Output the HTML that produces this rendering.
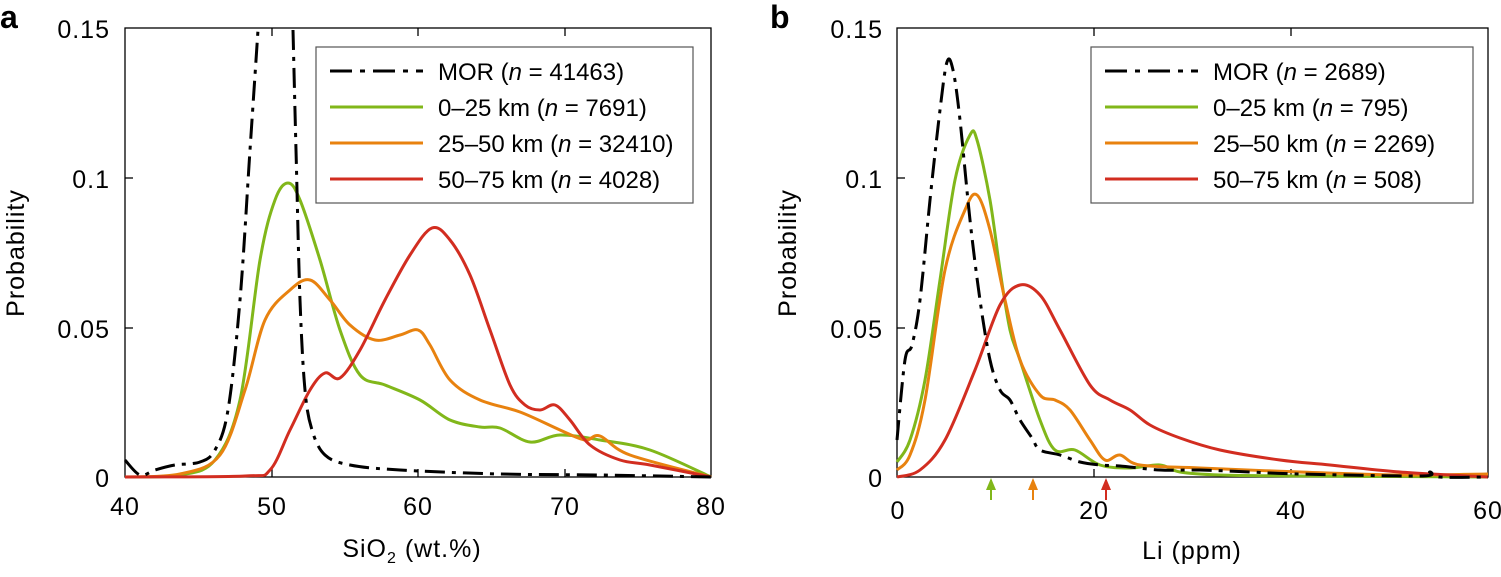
<!DOCTYPE html>
<html><head><meta charset="utf-8"><style>
body{margin:0;background:#fff}
text{font-family:"Liberation Sans",sans-serif;fill:#000}
</style></head><body>
<svg width="1501" height="572" viewBox="0 0 1501 572" xmlns="http://www.w3.org/2000/svg">
<g font-size="25">
<!-- Panel a -->
<text x="0" y="28" font-size="32" font-weight="bold">a</text>
<rect x="125" y="28" width="586" height="449" fill="none" stroke="#000" stroke-width="1.3"/>
<g stroke="#000" stroke-width="1.3">
<line x1="125" y1="178" x2="133" y2="178"/><line x1="125" y1="328" x2="133" y2="328"/>
<line x1="272" y1="477" x2="272" y2="469"/><line x1="418" y1="477" x2="418" y2="469"/><line x1="565" y1="477" x2="565" y2="469"/>
<line x1="272" y1="28" x2="272" y2="36"/><line x1="418" y1="28" x2="418" y2="36"/><line x1="565" y1="28" x2="565" y2="36"/>
</g>
<g text-anchor="end" letter-spacing="1"><text x="110" y="38">0.15</text><text x="110" y="188">0.1</text><text x="110" y="338">0.05</text><text x="110" y="487">0</text></g>
<g text-anchor="middle" letter-spacing="1"><text x="125" y="515">40</text><text x="272" y="515">50</text><text x="418" y="515">60</text><text x="565" y="515">70</text><text x="711" y="515">80</text>
<text x="412" y="557">SiO<tspan font-size="16" dy="6">2</tspan><tspan dy="-6"> (wt.%)</tspan></text>
<text transform="translate(24,253) rotate(-90)">Probability</text></g>
<g fill="none" stroke-width="3" stroke-linejoin="round" class="sm">
<polyline stroke="#81b71a" points="125,477 180,475 215,460 240,400 260,260 275,200 288,183 300,200 320,260 340,330 360,375 385,385 420,400 450,420 480,427 500,428 530,442 560,435 600,440 650,450 711,477"/>
<polyline stroke="#e8820f" points="125,477 180,474 220,455 245,390 265,320 290,290 310,280 330,300 350,325 375,340 400,335 418,330 430,345 450,380 480,400 520,412 560,430 585,440 600,436 630,455 711,477"/>
<polyline stroke="#d22d20" points="125,477 245,476 270,470 290,430 310,390 325,373 340,378 360,350 385,300 410,255 432,228 450,240 470,275 490,330 510,385 525,405 540,410 555,405 570,420 590,445 620,460 650,465 711,477"/>
<polyline stroke="#000" stroke-dasharray="20,7,4,7" points="125,460 140,475 155,470 175,465 200,462 215,450 228,410 240,300 250,150 258,30"/>
<polyline stroke="#000" stroke-dasharray="20,7,4,7" points="293,30 296,150 300,300 305,390 312,430 325,455 350,465 400,470 500,474 600,475 711,477"/>
</g>
<rect x="316" y="47" width="377" height="156" fill="#fff" stroke="#555" stroke-width="1.2"/>
<g stroke-width="3"><line x1="330" y1="71" x2="423" y2="71" stroke="#000" stroke-dasharray="22,8,5,8"/>
<line x1="330" y1="107" x2="423" y2="107" stroke="#81b71a"/><line x1="330" y1="143" x2="423" y2="143" stroke="#e8820f"/><line x1="330" y1="179" x2="423" y2="179" stroke="#d22d20"/></g>
<g font-size="24">
<text x="438" y="80">MOR (<tspan font-style="italic">n</tspan> = 41463)</text>
<text x="438" y="116">0–25 km (<tspan font-style="italic">n</tspan> = 7691)</text>
<text x="438" y="152">25–50 km (<tspan font-style="italic">n</tspan> = 32410)</text>
<text x="438" y="188">50–75 km (<tspan font-style="italic">n</tspan> = 4028)</text>
</g>

<!-- Panel b -->
<text x="770" y="28" font-size="32" font-weight="bold">b</text>
<rect x="897" y="28" width="591" height="449" fill="none" stroke="#000" stroke-width="1.3"/>
<g stroke="#000" stroke-width="1.3">
<line x1="897" y1="178" x2="905" y2="178"/><line x1="897" y1="328" x2="905" y2="328"/>
<line x1="1094" y1="477" x2="1094" y2="469"/><line x1="1291" y1="477" x2="1291" y2="469"/>
<line x1="1094" y1="28" x2="1094" y2="36"/><line x1="1291" y1="28" x2="1291" y2="36"/>
</g>
<g text-anchor="end" letter-spacing="1"><text x="883" y="38">0.15</text><text x="883" y="188">0.1</text><text x="883" y="338">0.05</text><text x="883" y="487">0</text></g>
<g text-anchor="middle" letter-spacing="1"><text x="898" y="519">0</text><text x="1094" y="519">20</text><text x="1291" y="519">40</text><text x="1488" y="519">60</text>
<text x="1192" y="559">Li (ppm)</text>
<text transform="translate(796,253) rotate(-90)">Probability</text></g>
<g fill="none" stroke-width="3" stroke-linejoin="round" class="sm">
<polyline stroke="#81b71a" points="897,462 910,440 925,380 940,280 955,180 970,135 977,140 990,200 1000,270 1010,330 1020,360 1040,420 1055,450 1075,450 1100,465 1130,468 1160,465 1180,472 1220,475 1300,476 1488,477"/>
<polyline stroke="#e8820f" points="897,470 910,455 925,400 945,270 965,210 977,195 990,230 1005,300 1020,360 1040,395 1055,400 1070,410 1090,440 1105,460 1120,455 1140,465 1200,468 1300,472 1400,475 1488,474"/>
<polyline stroke="#d22d20" points="897,477 920,470 945,440 975,370 1000,305 1020,285 1040,295 1060,330 1090,385 1110,400 1130,410 1150,425 1180,438 1220,450 1280,460 1330,465 1400,472 1488,477"/>
<polyline stroke="#000" stroke-dasharray="20,7,4,7" points="897,440 905,360 912,345 920,300 930,200 940,110 947,62 953,70 960,120 970,220 980,300 990,360 1000,390 1010,400 1020,420 1032,438 1040,450 1060,455 1080,462 1100,465 1120,466 1160,470 1200,470 1250,472 1300,474 1420,476 1430,472 1440,477 1488,477"/>
</g>
<g stroke-width="2"><line x1="991" y1="480" x2="991" y2="500" stroke="#81b71a"/><line x1="1033" y1="480" x2="1033" y2="500" stroke="#e8820f"/><line x1="1106" y1="480" x2="1106" y2="500" stroke="#d22d20"/></g>
<polygon points="991,478 986,490 996,490" fill="#81b71a"/><polygon points="1033,478 1028,490 1038,490" fill="#e8820f"/><polygon points="1106,478 1101,490 1111,490" fill="#d22d20"/>
<rect x="1091" y="47" width="382" height="156" fill="#fff" stroke="#555" stroke-width="1.2"/>
<g stroke-width="3"><line x1="1105" y1="71" x2="1198" y2="71" stroke="#000" stroke-dasharray="22,8,5,8"/>
<line x1="1105" y1="107" x2="1198" y2="107" stroke="#81b71a"/><line x1="1105" y1="143" x2="1198" y2="143" stroke="#e8820f"/><line x1="1105" y1="179" x2="1198" y2="179" stroke="#d22d20"/></g>
<g font-size="24">
<text x="1213" y="80">MOR (<tspan font-style="italic">n</tspan> = 2689)</text>
<text x="1213" y="116">0–25 km (<tspan font-style="italic">n</tspan> = 795)</text>
<text x="1213" y="152">25–50 km (<tspan font-style="italic">n</tspan> = 2269)</text>
<text x="1213" y="188">50–75 km (<tspan font-style="italic">n</tspan> = 508)</text>
</g>
</g>
</svg>
<script>
document.querySelectorAll('.sm polyline').forEach(function(pl){
  var p=pl.getAttribute('points').trim().split(/\s+/).map(function(s){return s.split(',').map(Number);});
  var d='M'+p[0][0]+','+p[0][1];
  for(var i=0;i<p.length-1;i++){
    var p0=p[i-1]||p[i],p1=p[i],p2=p[i+1],p3=p[i+2]||p2;
    var c1=[p1[0]+(p2[0]-p0[0])/6,p1[1]+(p2[1]-p0[1])/6];
    var c2=[p2[0]-(p3[0]-p1[0])/6,p2[1]-(p3[1]-p1[1])/6];
    d+=' C'+c1[0].toFixed(1)+','+c1[1].toFixed(1)+' '+c2[0].toFixed(1)+','+c2[1].toFixed(1)+' '+p2[0]+','+p2[1];
  }
  var path=document.createElementNS('http://www.w3.org/2000/svg','path');
  path.setAttribute('d',d);
  ['stroke','stroke-dasharray'].forEach(function(a){if(pl.getAttribute(a))path.setAttribute(a,pl.getAttribute(a));});
  pl.parentNode.replaceChild(path,pl);
});
</script>
</body></html>
